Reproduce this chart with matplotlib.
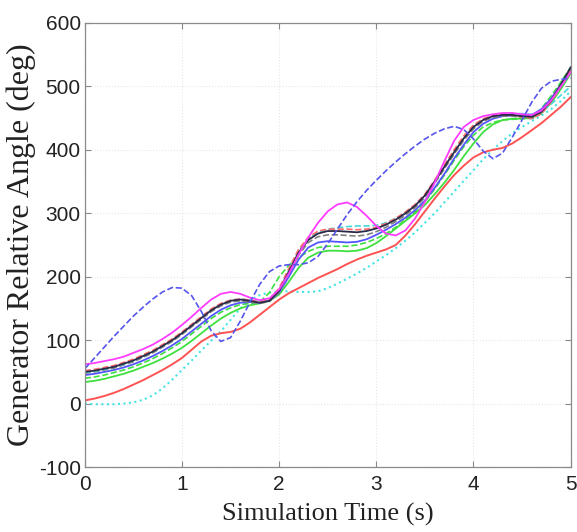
import numpy as np
import matplotlib
matplotlib.use("Agg")
import matplotlib.pyplot as plt

plt.rcParams['axes.unicode_minus'] = False

# time grid (s), step 0.1
t = np.linspace(0, 5, 51)

red_solid = [5, 8, 12, 17, 23, 30, 37, 45, 53, 62, 72,
             85, 98, 107, 111, 113, 118, 128, 140, 152, 164,
             174, 182, 190, 198, 205, 212, 220, 227, 233, 238,
             243, 250, 265, 283, 303, 323, 342, 360, 375, 388,
             396, 400, 403, 410, 420, 431, 442, 455, 468, 483]
cyan_dotted = [0, -1, -1, -1, 0, 2, 6, 13, 24, 38, 53,
               68, 84, 99, 114, 132, 150, 163, 171, 175, 177,
               177, 176, 176, 177, 182, 189, 197, 205, 214, 224,
               234, 245, 257, 270, 285, 300, 317, 334, 351, 368,
               385, 400, 414, 426, 436, 445, 454, 464, 477, 492]
green_solid = [34, 36, 39, 43, 47, 52, 58, 64, 71, 79, 88,
               99, 111, 123, 134, 143, 150, 155, 158, 162, 172,
               192, 214, 230, 238, 241, 241, 240, 241, 245, 253,
               264, 276, 288, 300, 313, 330, 348, 368, 390, 410,
               428, 440, 447, 449, 449, 450, 458, 474, 496, 520]
blue_solid = [45, 47, 50, 53, 57, 62, 68, 75, 83, 92, 102,
              114, 126, 138, 148, 155, 159, 160, 159, 162, 175,
              200, 227, 246, 254, 256, 255, 254, 255, 259, 266,
              274, 283, 293, 305, 320, 340, 362, 386, 408, 428,
              441, 449, 453, 454, 454, 455, 464, 481, 503, 527]
black_solid = [50, 52, 55, 58, 63, 68, 75, 82, 91, 100, 111,
               123, 135, 147, 156, 162, 164, 162, 159, 162, 178,
               208, 238, 258, 268, 272, 272, 271, 270, 272, 276,
               282, 290, 300, 312, 328, 350, 373, 396, 418, 436,
               447, 453, 455, 455, 453, 452, 460, 478, 503, 530]
magenta_solid = [62, 64, 67, 70, 74, 80, 86, 93, 102, 112, 124,
                 137, 151, 164, 173, 176, 173, 167, 163, 166, 180,
                 205, 235, 262, 285, 303, 314, 317, 310, 296, 280,
                 268, 265, 273, 292, 318, 348, 382, 414, 436, 447,
                 453, 456, 458, 458, 456, 455, 462, 478, 500, 522]
blue_dashed = [55, 72, 89, 106, 122, 138, 152, 165, 176, 183, 182,
               170, 145, 115, 98, 104, 130, 160, 188, 208, 217,
               219, 219, 222, 232, 252, 275, 298, 318, 336, 352,
               367, 381, 394, 406, 417, 426, 433, 437, 432, 417,
               398, 386, 395, 420, 447, 475, 497, 508, 511, 513]
green_dashed = [40, 42, 45, 49, 53, 58, 64, 71, 79, 88, 98,
                110, 122, 134, 144, 151, 156, 158, 160, 175, 200,
                218, 230, 240, 246, 248, 248, 248, 250, 254, 260,
                268, 278, 290, 302, 318, 338, 360, 383, 405, 423,
                436, 443, 447, 448, 449, 452, 465, 485, 507, 530]
red_dashed = [52, 54, 57, 60, 65, 70, 77, 84, 93, 102, 113,
              125, 137, 149, 158, 163, 165, 163, 160, 164, 182,
              213, 243, 262, 272, 275, 275, 275, 274, 275, 278,
              284, 292, 302, 314, 330, 352, 376, 400, 422, 439,
              449, 454, 456, 455, 452, 450, 457, 476, 500, 525]
cyan_dashed = [49, 51, 54, 58, 62, 68, 75, 82, 91, 100, 111,
               123, 136, 148, 157, 163, 165, 163, 160, 163, 180,
               210, 240, 260, 270, 275, 277, 279, 280, 280, 281,
               285, 292, 301, 313, 329, 350, 374, 397, 419, 437,
               448, 453, 456, 457, 457, 456, 460, 472, 486, 500]
grey_dashed = [48, 50, 53, 56, 61, 66, 73, 80, 89, 98, 109,
               121, 133, 145, 154, 160, 162, 160, 158, 161, 176,
               205, 234, 254, 263, 266, 266, 265, 264, 266, 271,
               278, 287, 297, 309, 325, 347, 370, 393, 415, 433,
               445, 451, 453, 453, 451, 449, 457, 476, 500, 526]

x_ticks = [0, 1, 2, 3, 4, 5]
y_ticks = [-100, 0, 100, 200, 300, 400, 500, 600]

fig = plt.figure(figsize=(5.77, 5.32), dpi=100)
ax = fig.add_axes([0.147, 0.122, 0.842, 0.835])

series = [
    (cyan_dotted, '#45e4e4', ':', 1.5),
    (red_solid, '#ff5252', '-', 1.4),
    (green_solid, '#3ee03e', '-', 1.3),
    (green_dashed, '#3ee03e', '--', 1.2),
    (blue_solid, '#5555ff', '-', 1.3),
    (grey_dashed, '#808080', '--', 1.2),
    (cyan_dashed, '#45d8d8', '--', 1.2),
    (red_dashed, '#ff6a6a', '--', 1.2),
    (black_solid, '#2a2a48', '-', 1.3),
    (magenta_solid, '#ff3cff', '-', 1.3),
    (blue_dashed, '#5555ee', '--', 1.2),
]
for vals, c, ls, lw in series:
    ax.plot(t, vals, color=c, linestyle=ls, linewidth=lw)

ax.set_xlim(0, 5)
ax.set_ylim(-100, 600)
ax.set_xticks(x_ticks)
ax.set_yticks(y_ticks)
ax.grid(True, color='#e6e6e6', linestyle=':', linewidth=0.8)
ax.tick_params(direction='in', top=True, right=True, length=4, color='#888888',
               labelsize=15)
ax.tick_params(axis='x', pad=6)
ax.tick_params(axis='y', pad=3)
for lab in ax.get_xticklabels() + ax.get_yticklabels():
    lab.set_fontfamily('Liberation Sans')
    lab.set_color('#222222')
for s in ax.spines.values():
    s.set_color('#8a8a8a')
    s.set_linewidth(0.9)

ax.set_xlabel('Simulation Time (s)', fontfamily='Liberation Serif', fontsize=19,
              color='#222222', labelpad=6)
ax.set_ylabel('Generator Relative Angle (deg)', fontfamily='Liberation Serif',
              fontsize=23, color='#222222', labelpad=2)

fig.savefig('out.png', dpi=100)
